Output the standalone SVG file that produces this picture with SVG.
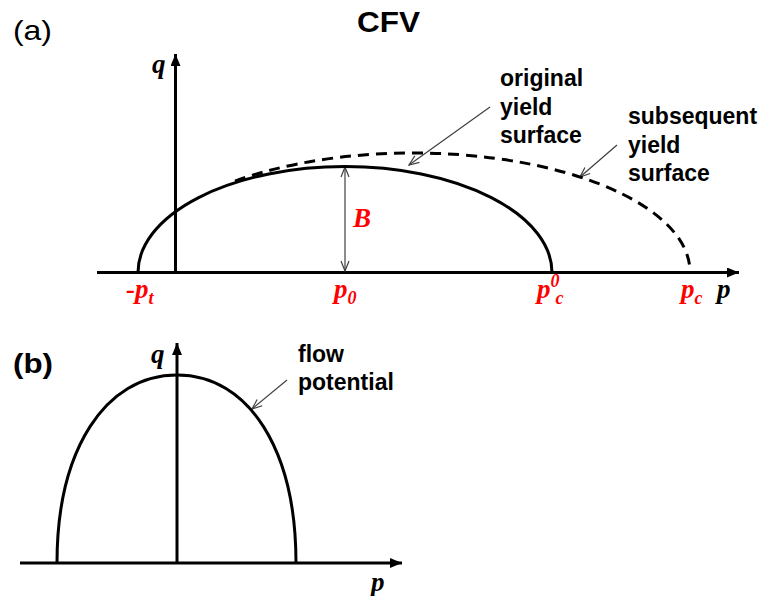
<svg xmlns="http://www.w3.org/2000/svg" width="765" height="596" viewBox="0 0 765 596">
<style>
.axis{stroke:#000;stroke-width:3;fill:none}
.curve{stroke:#000;stroke-width:3;fill:none}
.dash{stroke:#000;stroke-width:3;fill:none;stroke-dasharray:11 7}
.lead{stroke:#404040;stroke-width:1.2;fill:none}
.lbl{font-family:"Liberation Sans",Arial,sans-serif;font-weight:bold;font-size:23px;fill:#000}
.math{font-family:"Liberation Serif","Times New Roman",serif;font-weight:bold;font-style:italic;font-size:27px}
.sub{font-size:18px}
.red{fill:#FF0000}
.blk{fill:#000}
</style>
<defs>
<marker id="ah" viewBox="0 0 12 10" refX="12" refY="5" markerWidth="12" markerHeight="10" markerUnits="userSpaceOnUse" orient="auto">
<path d="M0,0 L12,5 L0,10 z" fill="#000"/>
</marker>
<marker id="oa" viewBox="0 0 12 10" refX="11" refY="5" markerWidth="12" markerHeight="10" markerUnits="userSpaceOnUse" orient="auto-start-reverse">
<path d="M1,1 L11,5 L1,9" fill="none" stroke="#404040" stroke-width="1.2"/>
</marker>
</defs>
<rect width="765" height="596" fill="#fff"/>
<!-- titles -->
<text x="13" y="40" font-family="Liberation Sans,Arial,sans-serif" font-size="28" textLength="39" lengthAdjust="spacingAndGlyphs">(a)</text>
<text x="357" y="32" font-family="Liberation Sans,Arial,sans-serif" font-weight="bold" font-size="29" textLength="63" lengthAdjust="spacingAndGlyphs">CFV</text>
<text x="13" y="373" font-family="Liberation Sans,Arial,sans-serif" font-weight="bold" font-size="28" textLength="40" lengthAdjust="spacingAndGlyphs">(b)</text>

<g id="connectors">
<!-- (a) axes -->
<line class="axis" x1="97" y1="272.5" x2="739" y2="272.5" marker-end="url(#ah)"/>
<path class="axis" d="M175.5,272.5 V54" marker-end="url(#ah)"/>
<!-- B dimension arrow -->
<line x1="345" y1="167" x2="345" y2="271" stroke="#404040" stroke-width="1.2" marker-start="url(#oa)" marker-end="url(#oa)"/>
<!-- leaders -->
<line class="lead" x1="490" y1="107" x2="409" y2="165" marker-end="url(#oa)"/>
<line class="lead" x1="617" y1="145" x2="580" y2="177" marker-end="url(#oa)"/>
<!-- (b) axes -->
<line class="axis" x1="20" y1="563" x2="402" y2="563" marker-end="url(#ah)"/>
<path class="axis" d="M177,563 V343" marker-end="url(#ah)"/>
<line class="lead" x1="287" y1="380" x2="252" y2="409" marker-end="url(#oa)"/>
</g>

<g id="original-yield-surface">
<path class="curve" d="M138,272.5 A207,106 0 0,1 552,272.5"/>
<text class="lbl" x="500" y="86">original</text>
<text class="lbl" x="500" y="115">yield</text>
<text class="lbl" x="500" y="143">surface</text>
</g>

<g id="subsequent-yield-surface">
<path class="dash" d="M235,181.1 A276.5,119 0 0,1 690,272.5"/>
<text class="lbl" x="628" y="124">subsequent</text>
<text class="lbl" x="628" y="153">yield</text>
<text class="lbl" x="628" y="181">surface</text>
</g>

<g id="labels-a">
<text class="math blk" x="152" y="73" font-size="25">q</text>
<text class="math red" x="353" y="227" font-size="22">B</text>
<text class="math red" x="126" y="298">-p<tspan class="sub" dy="6">t</tspan></text>
<text class="math red" x="334" y="298">p<tspan class="sub" dy="6">0</tspan></text>
<text class="math red" x="537" y="298">p<tspan class="sub" dy="-11">0</tspan><tspan class="sub" dx="-4" dy="17">c</tspan></text>
<text class="math red" x="681" y="298">p<tspan class="sub" dy="6">c</tspan></text>
<text class="math blk" x="717" y="298">p</text>
</g>

<g id="flow-potential">
<path class="curve" d="M57,563 C57,450 105,375 177,375 C249,375 296,450 296,563"/>
<text class="lbl" x="298" y="362">flow</text>
<text class="lbl" x="298" y="390">potential</text>
</g>

<g id="labels-b">
<text class="math blk" x="151" y="363" font-size="25">q</text>
<text class="math blk" x="371" y="591" font-size="25">p</text>
</g>
</svg>
